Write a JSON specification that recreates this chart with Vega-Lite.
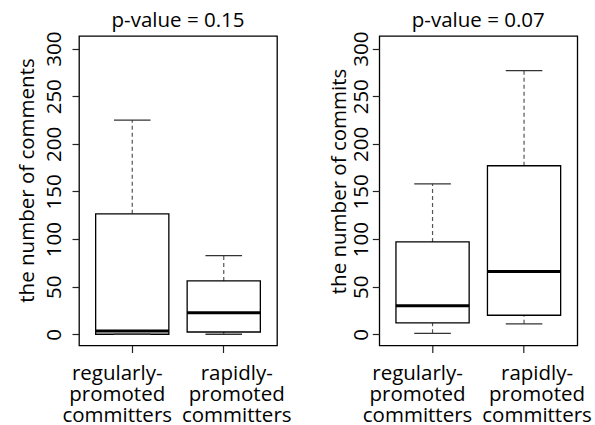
{
  "$schema": "https://vega.github.io/schema/vega-lite/v6.json",
  "autosize": {"type": "pad"},
  "padding": {"left": 16, "top": 9, "right": 5, "bottom": 0},
  "config": {
    "font": "Open Sans",
    "view": {"stroke": "black", "strokeWidth": 1.3},
    "axis": {"labelColor": "black", "titleColor": "black", "tickColor": "#222", "tickWidth": 1.2, "grid": false, "domain": false, "labelFontSize": 20.5, "titleFontSize": 20.5, "titleFontWeight": "normal", "labelFont": "Open Sans", "titleFont": "Open Sans"},
    "title": {"font": "Open Sans", "fontSize": 20.5, "fontWeight": "normal", "color": "black"}
  },
  "datasets": {
    "comments": [
      {"group": "regularly-promoted committers", "lower": 0, "q1": 0, "median": 3.5, "q3": 126.5, "upper": 225},
      {"group": "rapidly-promoted committers", "lower": 0, "q1": 2.4, "median": 22.5, "q3": 56, "upper": 82.6}
    ],
    "commits": [
      {"group": "regularly-promoted committers", "lower": 1, "q1": 12, "median": 30, "q3": 97, "upper": 158},
      {"group": "rapidly-promoted committers", "lower": 11, "q1": 20, "median": 66, "q3": 177, "upper": 277}
    ]
  },
  "spacing": 102.3,
  "bounds": "flush",
  "hconcat": [
    {
      "width": 198,
      "height": 309.5,
      "title": {"text": "p-value = 0.15", "frame": "group", "baseline": "alphabetic", "offset": -16, "anchor": "middle"},
      "data": {"name": "comments"},
      "encoding": {
        "x": {"field": "group", "type": "nominal", "sort": null,
          "scale": {"paddingInner": 0.2, "paddingOuter": 0.182},
          "axis": {"title": null, "labelAngle": 0, "tickSize": 7, "labelPadding": 11, "labelLineHeight": 21, "labelAlign": "center", "labelBaseline": "top",
            "labelOffset": {"condition": {"test": "datum.value == 'regularly-promoted committers'", "value": -15}, "value": 13},
            "labelExpr": "datum.value == 'regularly-promoted committers' ? ['regularly-', 'promoted', 'committers'] : ['rapidly-', 'promoted', 'committers']"}}
      },
      "layer": [
        {"mark": {"type": "rule", "strokeDash": [4, 3], "color": "#555", "strokeWidth": 1.2},
         "encoding": {"y": {"field": "q3", "type": "quantitative",
           "scale": {"domain": [-11.8, 313.3], "nice": false, "zero": false},
           "axis": {"values": [0, 50, 100, 150, 200, 250, 300], "tickSize": 7, "labelAngle": 270, "labelAlign": "center", "labelBaseline": "alphabetic", "labelPadding": 12, "labelFlush": false, "labelOverlap": false,
             "title": "the number of comments", "titleAngle": 270, "titleAlign": "center", "titleBaseline": "alphabetic", "titleX": -45.7, "titleY": 144}},
           "y2": {"field": "upper"}}},
        {"mark": {"type": "rule", "strokeDash": [4, 3], "color": "#555", "strokeWidth": 1.2},
         "encoding": {"y": {"field": "lower", "type": "quantitative"}, "y2": {"field": "q1"}}},
        {"mark": {"type": "bar", "fill": "white", "stroke": "black", "strokeWidth": 1.3, "opacity": 1},
         "encoding": {"y": {"field": "q1", "type": "quantitative"}, "y2": {"field": "q3"}}},
        {"mark": {"type": "tick", "color": "#333", "size": 36.6, "thickness": 1.3, "opacity": 1},
         "encoding": {"y": {"field": "upper", "type": "quantitative"}}},
        {"mark": {"type": "tick", "color": "#333", "size": 36.6, "thickness": 1.3, "opacity": 1},
         "encoding": {"y": {"field": "lower", "type": "quantitative"}}},
        {"mark": {"type": "tick", "color": "black", "size": 73.3, "thickness": 3, "opacity": 1},
         "encoding": {"y": {"field": "median", "type": "quantitative"}}}
      ]
    },
    {
      "width": 198,
      "height": 309.5,
      "title": {"text": "p-value = 0.07", "frame": "group", "baseline": "alphabetic", "offset": -16, "anchor": "middle"},
      "data": {"name": "commits"},
      "encoding": {
        "x": {"field": "group", "type": "nominal", "sort": null,
          "scale": {"paddingInner": 0.2, "paddingOuter": 0.182},
          "axis": {"title": null, "labelAngle": 0, "tickSize": 7, "labelPadding": 11, "labelLineHeight": 21, "labelAlign": "center", "labelBaseline": "top",
            "labelOffset": {"condition": {"test": "datum.value == 'regularly-promoted committers'", "value": -15}, "value": 13},
            "labelExpr": "datum.value == 'regularly-promoted committers' ? ['regularly-', 'promoted', 'committers'] : ['rapidly-', 'promoted', 'committers']"}}
      },
      "layer": [
        {"mark": {"type": "rule", "strokeDash": [4, 3], "color": "#555", "strokeWidth": 1.2},
         "encoding": {"y": {"field": "q3", "type": "quantitative",
           "scale": {"domain": [-11.8, 313.3], "nice": false, "zero": false},
           "axis": {"values": [0, 50, 100, 150, 200, 250, 300], "tickSize": 7, "labelAngle": 270, "labelAlign": "center", "labelBaseline": "alphabetic", "labelPadding": 5, "labelFlush": false, "labelOverlap": false,
             "title": "the number of commits", "titleAngle": 270, "titleAlign": "center", "titleBaseline": "alphabetic", "titleX": -34, "titleY": 145}},
           "y2": {"field": "upper"}}},
        {"mark": {"type": "rule", "strokeDash": [4, 3], "color": "#555", "strokeWidth": 1.2},
         "encoding": {"y": {"field": "lower", "type": "quantitative"}, "y2": {"field": "q1"}}},
        {"mark": {"type": "bar", "fill": "white", "stroke": "black", "strokeWidth": 1.3, "opacity": 1},
         "encoding": {"y": {"field": "q1", "type": "quantitative"}, "y2": {"field": "q3"}}},
        {"mark": {"type": "tick", "color": "#333", "size": 36.6, "thickness": 1.3, "opacity": 1},
         "encoding": {"y": {"field": "upper", "type": "quantitative"}}},
        {"mark": {"type": "tick", "color": "#333", "size": 36.6, "thickness": 1.3, "opacity": 1},
         "encoding": {"y": {"field": "lower", "type": "quantitative"}}},
        {"mark": {"type": "tick", "color": "black", "size": 73.3, "thickness": 3, "opacity": 1},
         "encoding": {"y": {"field": "median", "type": "quantitative"}}}
      ]
    }
  ]
}
